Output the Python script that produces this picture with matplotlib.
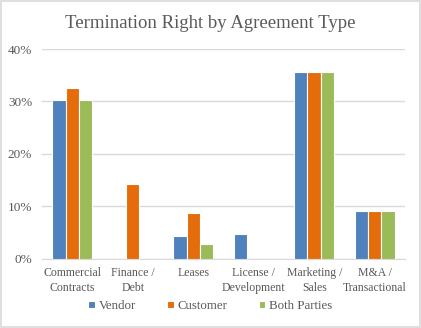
import matplotlib.pyplot as plt
import numpy as np

categories = ["Commercial\nContracts", "Finance /\nDebt", "Leases",
              "License /\nDevelopment", "Marketing /\nSales", "M&A /\nTransactional"]
vendor = [30.2, 0.0, 4.4, 4.8, 35.7, 9.1]
customer = [32.6, 14.3, 8.8, 0.0, 35.7, 9.1]
both_parties = [30.2, 0.0, 2.9, 0.0, 35.7, 9.1]

series = [("Vendor", vendor, "#4F81BD"),
          ("Customer", customer, "#E46C0A"),
          ("Both Parties", both_parties, "#9BBB59")]

plt.rcParams['font.family'] = ['Liberation Serif', 'DejaVu Serif']

fig = plt.figure(figsize=(4.21, 3.28), dpi=100)
ax = fig.add_axes([0.0998, 0.2104, 0.862, 0.6402])

x = np.arange(len(categories))
width = 0.222
for i, (name, vals, color) in enumerate(series):
    ax.bar(x + (i - 1) * width, vals, width, color=color, edgecolor="white",
           linewidth=0.8, label=name, zorder=3)

ax.set_xlim(-0.5, len(categories) - 0.5)
ax.set_ylim(0, 40)
ax.set_yticks([0, 10, 20, 30, 40])
ax.set_yticklabels([f"{v}%" for v in [0, 10, 20, 30, 40]])
ax.set_xticks(x)
ax.set_xticklabels(categories, fontsize=8.5, color="#595959", linespacing=1.3)
ax.tick_params(axis="y", labelsize=9.5, labelcolor="#595959", length=0, pad=7)
ax.tick_params(axis="x", length=0, pad=6)
ax.grid(axis="y", color="#D9D9D9", linewidth=1, zorder=0)
for side in ["top", "right", "left"]:
    ax.spines[side].set_visible(False)
ax.spines["bottom"].set_color("#D9D9D9")

fig.suptitle("Termination Right by Agreement Type", y=0.955, fontsize=13.5,
             color="#595959")

fig.legend(loc="center", bbox_to_anchor=(0.5, 0.066), ncol=3, frameon=False,
           fontsize=9.3, handlelength=0.5, handleheight=0.5, columnspacing=2.4,
           handletextpad=0.32, labelcolor="#595959")

# thin light border round the whole chart
fig.patches.append(plt.Rectangle((0.002, 0.003), 0.995, 0.994, transform=fig.transFigure,
                                 fill=False, edgecolor="#D9D9D9", linewidth=1.2))

fig.savefig("out.png", dpi=100)
